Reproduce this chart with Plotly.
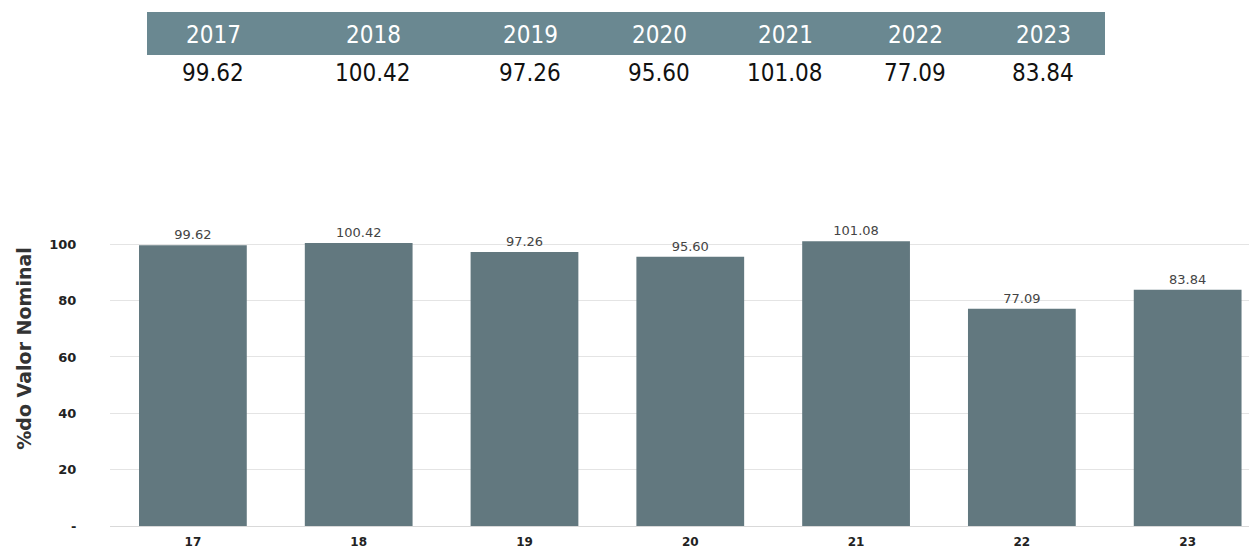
import plotly.graph_objects as go

# Yearly values (% of nominal value)
years = ["2017", "2018", "2019", "2020", "2021", "2022", "2023"]
short_years = ["17", "18", "19", "20", "21", "22", "23"]
values = [99.62, 100.42, 97.26, 95.60, 101.08, 77.09, 83.84]
y_ticks = [0, 20, 40, 60, 80, 100]
y_tick_text = ["-", "20", "40", "60", "80", "100"]

W, H = 1249, 549
BAR_COLOR = "#62787f"
HEADER_COLOR = "#6a8891"
narrow = "Liberation Sans Narrow, DejaVu Sans Condensed, sans-serif"

# Summary table layout (pixel positions of the header band and columns)
table_left, table_right = 147, 1105
header_top, header_bottom = 12, 55
header_text_y = 35
value_text_y = 73
col_centers = [213, 373, 530, 659, 785, 915, 1043]

fig = go.Figure()

fig.add_trace(go.Bar(
    x=short_years,
    y=values,
    marker=dict(color=BAR_COLOR, line=dict(width=0)),
    texttemplate="%{y:.2f}",
    textposition="outside",
    textfont=dict(family="DejaVu Sans, sans-serif", size=13, color="#444444"),
    cliponaxis=False,
    showlegend=False,
))

# Header band of the summary table
fig.add_shape(
    type="rect", xref="paper", yref="paper",
    x0=table_left / W, x1=table_right / W,
    y0=1 - header_bottom / H, y1=1 - header_top / H,
    fillcolor=HEADER_COLOR, line=dict(width=0), layer="below",
)

for cx, yr, v in zip(col_centers, years, values):
    fig.add_annotation(
        x=cx / W, y=1 - header_text_y / H, xref="paper", yref="paper",
        text=yr, showarrow=False, xanchor="center", yanchor="middle",
        font=dict(family=narrow, size=24, color="white"),
    )
    fig.add_annotation(
        x=cx / W, y=1 - value_text_y / H, xref="paper", yref="paper",
        text=f"{v:.2f}", showarrow=False, xanchor="center", yanchor="middle",
        font=dict(family=narrow, size=24, color="#111111"),
    )

fig.update_layout(
    width=W,
    height=H,
    margin=dict(l=0, r=0, t=0, b=0),
    paper_bgcolor="white",
    plot_bgcolor="white",
    bargap=0.35,
    xaxis=dict(
        domain=[110 / W, 1],
        range=[-0.5, 6.37],
        showgrid=False,
        showline=True,
        linecolor="#d9d9d9",
        linewidth=1,
        ticks="outside",
        ticklen=5,
        tickcolor="rgba(0,0,0,0)",
        tickfont=dict(family="DejaVu Sans, sans-serif", size=12, color="#222222", weight="bold"),
        automargin=False,
    ),
    yaxis=dict(
        domain=[1 - 526 / H, 1 - 171 / H],
        range=[0, 126],
        tickvals=y_ticks,
        ticktext=y_tick_text,
        showgrid=True,
        gridcolor="#e4e4e4",
        gridwidth=1,
        zeroline=False,
        ticks="outside",
        ticklen=30,
        tickcolor="rgba(0,0,0,0)",
        tickfont=dict(family="DejaVu Sans, sans-serif", size=13, color="#222222", weight="bold"),
        title=dict(
            text="%do Valor Nominal",
            font=dict(family="DejaVu Sans, sans-serif", size=19, color="#333333", weight="bold"),
            standoff=12,
        ),
        automargin=False,
    ),
)

fig.write_html("out.html")
